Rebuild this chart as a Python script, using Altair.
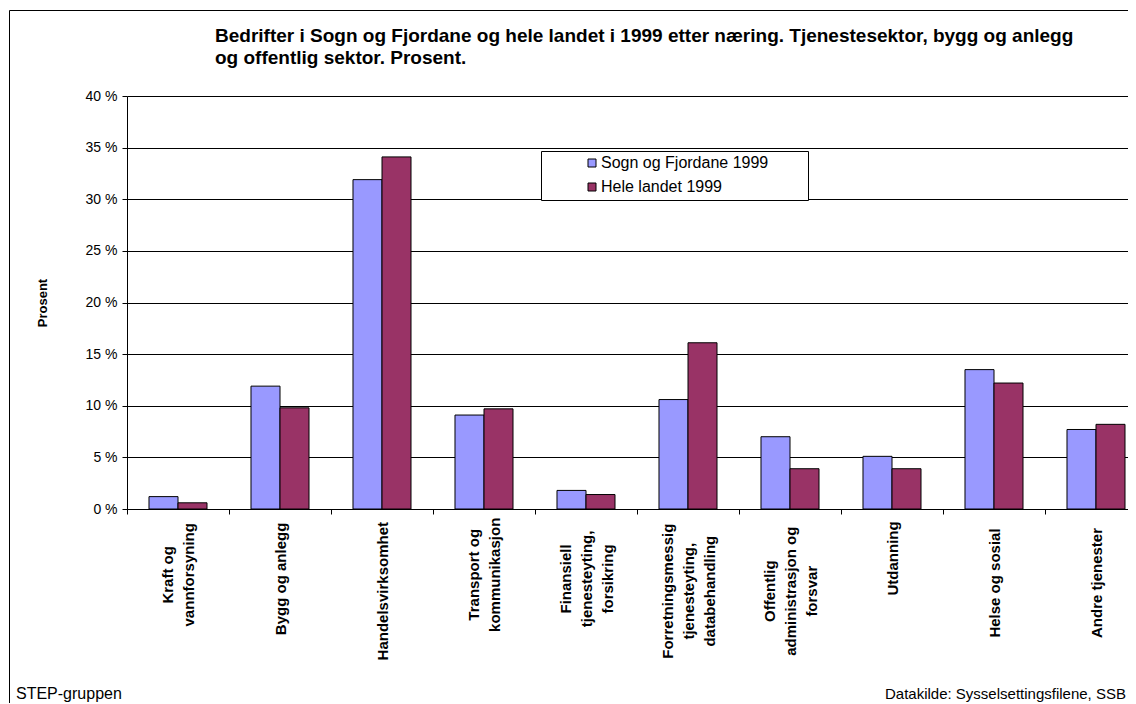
import altair as alt
import pandas as pd

FONT = "Liberation Sans"

categories = [
    "Kraft og\nvannforsyning",
    "Bygg og anlegg",
    "Handelsvirksomhet",
    "Transport og\nkommunikasjon",
    "Finansiell\ntjenesteyting,\nforsikring",
    "Forretningsmessig\ntjenesteyting,\ndatabehandling",
    "Offentlig\nadministrasjon og\nforsvar",
    "Utdanning",
    "Helse og sosial",
    "Andre tjenester",
]
series = ["Sogn og Fjordane 1999", "Hele landet 1999"]
sogn_fjordane = [1.2, 11.9, 31.9, 9.1, 1.8, 10.6, 7.0, 5.1, 13.5, 7.7]
hele_landet = [0.6, 9.8, 34.1, 9.7, 1.4, 16.1, 3.9, 3.9, 12.2, 8.2]
colors = ["#9999FF", "#993366"]
y_ticks = [0, 5, 10, 15, 20, 25, 30, 35, 40]

title_text = ("Bedrifter i Sogn og Fjordane og hele landet i 1999 etter næring. "
              "Tjenestesektor, bygg og anlegg\nog offentlig sektor. Prosent.")
footer_left = "STEP-gruppen"
footer_right = "Datakilde: Sysselsettingsfilene, SSB"

rows = []
for cat, a, b in zip(categories, sogn_fjordane, hele_landet):
    rows.append({"Næring": cat, "Serie": series[0], "Prosent": a})
    rows.append({"Næring": cat, "Serie": series[1], "Prosent": b})
df = pd.DataFrame(rows)

blank = alt.Data(values=[{"k": 0}])

LINES = "split(datum.value, '\\n')"
label_offset = alt.ExprRef(f"-(length({LINES}) - 1) * 10.5")
label_padding = alt.ExprRef(
    f"7 + 4.1 * max(length({LINES}[0]), length({LINES}[1] || ''), length({LINES}[2] || ''))"
)

frame = alt.Chart(blank).mark_rect(fillOpacity=0, stroke="black", strokeWidth=1).encode(
    x=alt.value(-117.5), x2=alt.value(1100), y=alt.value(-85.5), y2=alt.value(700)
)

bars = alt.Chart(df).mark_bar(stroke="black", strokeWidth=1).encode(
    x=alt.X(
        "Næring:N",
        sort=categories,
        scale=alt.Scale(paddingInner=0, paddingOuter=0, range=[0, 1020]),
        axis=alt.Axis(
            title=None,
            labelAngle=270,
            labelAlign="center",
            labelBaseline="middle",
            labelPadding=label_padding,
            labelOffset=label_offset,
            labelFontSize=15,
            labelFontWeight="bold",
            labelLineHeight=21,
            labelLimit=400,
            labelOverlap=False,
            labelColor="black",
            labelExpr="split(datum.label, '\\n')",
            tickBand="extent",
            tickSize=5,
            tickColor="black",
            domainColor="black",
            grid=False,
        ),
    ),
    xOffset=alt.XOffset("Serie:N", sort=series, scale=alt.Scale(paddingOuter=0.7586, paddingInner=0)),
    y=alt.Y(
        "Prosent:Q",
        scale=alt.Scale(domain=[0, 40], nice=False),
        axis=alt.Axis(
            values=y_ticks,
            labelExpr="datum.value + ' %'",
            labelFontSize=14,
            labelColor="black",
            labelPadding=5,
            tickSize=5,
            tickColor="black",
            domainColor="black",
            grid=True,
            gridColor="black",
            gridWidth=1,
            title="Prosent",
            titleFontSize=13,
            titleFontWeight="bold",
            titleColor="black",
            titleAngle=270,
            titleX=-78,
            titleY=206.5,
            titleAlign="center",
            titleBaseline="bottom",
        ),
    ),
    color=alt.Color(
        "Serie:N",
        sort=series,
        scale=alt.Scale(domain=series, range=colors),
        legend=alt.Legend(
            title=None,
            orient="none",
            legendX=457,
            legendY=59,
            padding=0,
            symbolType="square",
            symbolSize=64,
            symbolStrokeColor="black",
            symbolStrokeWidth=1,
            labelFontSize=16,
            labelColor="black",
            labelOffset=1,
            labelLimit=400,
            rowPadding=8,
        ),
    ),
)

legend_box = alt.Chart(blank).mark_rect(fill="white", stroke="black", strokeWidth=1).encode(
    x=alt.value(414.5), x2=alt.value(681.5), y=alt.value(55.5), y2=alt.value(104.5)
)

title = alt.Chart(blank).mark_text(
    text=title_text, lineBreak="\n", align="left", baseline="top",
    font=FONT, fontSize=19, fontWeight="bold", lineHeight=22, color="black"
).encode(x=alt.value(88), y=alt.value(-69))

foot_l = alt.Chart(blank).mark_text(
    text=footer_left, align="left", baseline="alphabetic", font=FONT, fontSize=16, color="black"
).encode(x=alt.value(-111), y=alt.value(603))

foot_r = alt.Chart(blank).mark_text(
    text=footer_right, align="left", baseline="alphabetic", font=FONT, fontSize=15, color="black"
).encode(x=alt.value(758), y=alt.value(603))

chart = alt.layer(frame, bars, legend_box, title, foot_l, foot_r).properties(
    width=1001,
    height=413,
    padding={"left": 119, "top": 88, "right": 0, "bottom": 194},
    autosize=alt.AutoSizeParams(type="none"),
).configure(font=FONT).configure_view(strokeWidth=0).configure_axis(labelFont=FONT, titleFont=FONT).configure_legend(labelFont=FONT)

chart.save("out.html", embed_options={"renderer": "svg", "actions": False})
